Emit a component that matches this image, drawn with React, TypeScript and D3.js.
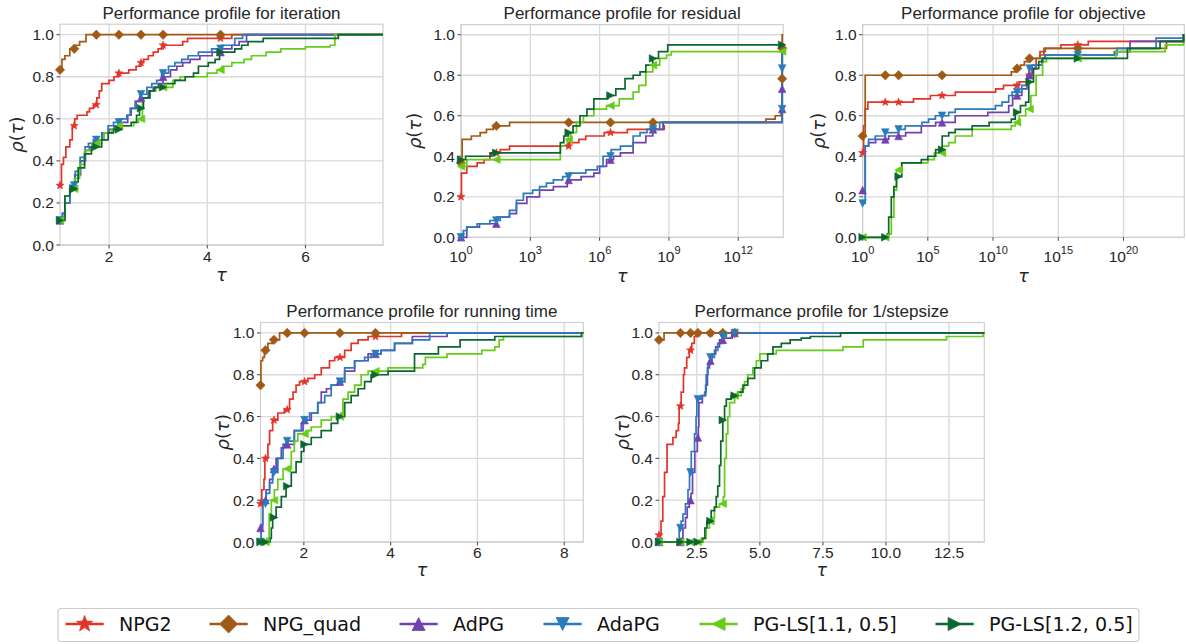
import React from "react";
import * as d3 from "d3";

type Pt = [number, number];

const SERIES = ["NPG2", "NPG_quad", "AdPG", "AdaPG", "PG-LS[1.1, 0.5]", "PG-LS[1.2, 0.5]"];
const COLORS = ["#e3342a", "#a05a16", "#7241b1", "#2a7bba", "#66cc1a", "#0b6630"];
const MARKERS = ["star", "diamond", "triUp", "triDown", "triLeft", "triRight"];
const Y_TICKS = [0, 0.2, 0.4, 0.6, 0.8, 1.0];

// ---------- iteration (tau linear) ----------
const ITER_NPG2: Pt[] = [[1,.283],[1.03,.383],[1.07,.417],[1.12,.467],[1.2,.5],[1.25,.567],[1.3,.6],[1.35,.617],[1.55,.633],[1.6,.65],[1.68,.667],[1.75,.7],[1.8,.733],[1.85,.767],[2.0,.783],[2.1,.8],[2.2,.817],[2.4,.833],[2.55,.85],[2.65,.867],[2.7,.883],[2.8,.9],[2.9,.917],[3.0,.933],[3.1,.95],[3.5,.967],[3.6,.983],[4.5,1]];
const ITER_QUAD: Pt[] = [[1,.833],[1.04,.883],[1.1,.9],[1.2,.933],[1.3,.95],[1.4,.967],[1.53,1]];
const ITER_ADPG: Pt[] = [[1,.117],[1.05,.15],[1.1,.2],[1.2,.283],[1.3,.333],[1.42,.4],[1.52,.45],[1.6,.467],[1.7,.5],[1.87,.533],[2.0,.55],[2.1,.567],[2.25,.583],[2.38,.617],[2.45,.65],[2.55,.683],[2.65,.7],[2.8,.733],[2.9,.75],[3.0,.767],[3.1,.8],[3.25,.833],[3.38,.85],[3.5,.867],[3.65,.883],[3.85,.9],[4.1,.917],[4.3,.933],[4.5,.95],[4.65,.967],[4.8,1]];
const ITER_ADAPG: Pt[] = [[1,.117],[1.05,.15],[1.1,.2],[1.2,.283],[1.31,.35],[1.41,.417],[1.51,.467],[1.58,.483],[1.68,.5],[1.85,.533],[1.98,.567],[2.09,.583],[2.22,.6],[2.36,.617],[2.43,.65],[2.53,.683],[2.63,.717],[2.77,.75],[2.87,.767],[2.97,.783],[3.07,.817],[3.21,.85],[3.34,.867],[3.48,.883],[3.61,.9],[3.82,.917],[4.09,.933],[4.29,.95],[4.56,.983],[4.72,1]];
const ITER_LS11: Pt[] = [[1,.117],[1.1,.233],[1.2,.267],[1.3,.317],[1.4,.383],[1.5,.45],[1.65,.483],[1.75,.5],[1.9,.533],[2.05,.55],[2.2,.567],[2.5,.583],[2.6,.6],[2.68,.7],[2.83,.733],[2.95,.75],[3.3,.783],[3.45,.8],[4.0,.817],[4.2,.833],[4.3,.85],[4.5,.867],[4.75,.883],[4.9,.9],[5.2,.917],[5.5,.933],[6.0,.942],[6.5,.95],[6.6,1]];
const ITER_LS12: Pt[] = [[1,.117],[1.1,.233],[1.2,.267],[1.3,.3],[1.37,.367],[1.5,.433],[1.64,.467],[1.85,.5],[1.98,.533],[2.09,.55],[2.26,.567],[2.45,.583],[2.56,.617],[2.62,.65],[2.7,.7],[2.83,.733],[2.93,.75],[3.14,.767],[3.34,.783],[3.55,.8],[3.72,.817],[3.82,.85],[4.02,.867],[4.16,.883],[4.25,.917],[4.56,.933],[4.7,.95],[4.83,.967],[5.14,.983],[6.67,1]];
const ITER_MARK_TAUS = [1, 1.29, 1.74, 2.2, 2.65, 3.1, 4.27];

// ---------- residual (log10 tau) ----------
const RES_NPG2: Pt[] = [[0,.2],[0.02,.317],[0.25,.35],[0.7,.367],[1.0,.383],[1.25,.417],[1.7,.433],[2.1,.45],[4.7,.467],[5.1,.483],[5.4,.5],[6.2,.517],[7.2,.533],[8.8,.55],[8.75,.567],[13.9,.933]];
const RES_QUAD: Pt[] = [[0,.367],[0.05,.483],[0.45,.5],[0.83,.517],[1.1,.533],[1.4,.55],[2.1,.567],[13.2,.583],[13.6,.6],[13.85,.617],[13.9,1]];
const RES_ADPG: Pt[] = [[0,0],[0.25,.05],[0.8,.067],[1.55,.1],[2.1,.117],[2.4,.167],[2.85,.2],[3.4,.233],[4.0,.25],[4.6,.283],[5.2,.3],[5.75,.317],[6.0,.35],[6.3,.383],[6.6,.4],[6.9,.417],[7.45,.467],[8.0,.5],[8.3,.533],[8.75,.567],[13.9,.95]];
const RES_ADAPG: Pt[] = [[0,0],[0.1,.033],[0.25,.05],[0.7,.067],[1.25,.083],[1.7,.1],[2.1,.133],[2.4,.183],[2.7,.217],[3.1,.233],[3.4,.25],[3.7,.267],[4.0,.283],[4.4,.3],[4.7,.317],[5.4,.333],[5.9,.35],[6.15,.4],[6.5,.433],[6.9,.45],[7.45,.5],[7.75,.517],[8.05,.533],[8.6,.567],[13.9,.95]];
const RES_LS11: Pt[] = [[0,.35],[0.25,.383],[4.3,.45],[4.6,.483],[4.75,.517],[5.0,.567],[5.3,.6],[5.75,.633],[6.3,.65],[6.85,.683],[7.45,.717],[7.7,.75],[8.0,.817],[8.3,.85],[8.6,.883],[8.9,.9],[9.1,.917]];
const RES_LS12: Pt[] = [[0,.383],[0.2,.4],[1.3,.417],[4.3,.467],[4.45,.5],[4.65,.517],[4.85,.55],[5.15,.6],[5.45,.633],[5.75,.683],[6.35,.7],[6.7,.733],[7.1,.783],[7.45,.8],[7.75,.817],[8.0,.85],[8.3,.883],[8.55,.917],[8.95,.95]];
const RES_MARK_LOGTAUS = [0, 1.53, 4.66, 6.47, 8.31];
const RES_END_LOGTAU = 13.9;
const RES_END_MARKS = [[0.933], [0.783, 0.933], [0.733, 0.633], [0.833, 0.633], [0.917], [0.95]];

// ---------- objective (log10 tau) ----------
const OBJ_NPG2: Pt[] = [[0,.417],[0.08,.55],[0.2,.633],[0.4,.667],[3.9,.683],[5.2,.7],[7.1,.717],[10.2,.733],[10.8,.75],[12.0,.767],[12.6,.8],[13.0,.833],[13.3,.883],[13.6,.917],[14.0,.933],[15.2,.95],[17.3,.967],[24.6,1]];
const OBJ_QUAD: Pt[] = [[0,.5],[0.2,.8],[11.4,.817],[11.7,.833],[12.1,.85],[12.4,.867],[12.8,.883],[13.6,.9],[13.9,.933],[23.3,.967],[24.6,1]];
const OBJ_ADPG: Pt[] = [[0,.233],[0.2,.45],[0.46,.467],[1.0,.483],[2.0,.5],[3.3,.517],[4.5,.55],[5.6,.567],[7.1,.6],[9.6,.617],[11.2,.65],[11.5,.7],[12.2,.733],[12.6,.8],[13.0,.85],[13.76,.883],[14.0,.9],[19.3,.917],[20.5,.967],[24.6,1]];
const OBJ_ADAPG: Pt[] = [[0,.167],[0.2,.45],[0.46,.483],[0.97,.5],[1.74,.517],[2.76,.533],[3.27,.55],[4.55,.567],[5.06,.583],[5.58,.6],[6.6,.617],[7.1,.633],[10.18,.65],[10.69,.667],[11.2,.7],[11.46,.717],[12.2,.75],[12.6,.8],[12.74,.833],[13.25,.85],[13.76,.883],[14.0,.9],[19.5,.933],[22.5,.983],[24.6,1]];
const OBJ_LS11: Pt[] = [[0,0],[2.0,.017],[2.2,.1],[2.4,.233],[2.6,.333],[3.0,.367],[5.0,.383],[5.5,.417],[6.1,.45],[6.6,.467],[7.1,.5],[8.4,.533],[11.4,.55],[11.7,.567],[12.0,.6],[12.5,.633],[12.9,.7],[13.3,.8],[13.8,.867],[14.1,.883],[19.4,.917],[23.2,.95],[24.6,1]];
const OBJ_LS12: Pt[] = [[0,0],[1.9,.017],[2.0,.1],[2.2,.2],[2.4,.25],[2.6,.3],[3.0,.367],[4.5,.383],[5.0,.4],[5.6,.433],[6.1,.5],[6.6,.517],[7.1,.533],[8.4,.55],[9.7,.567],[11.4,.583],[11.7,.617],[12.1,.65],[12.5,.667],[12.74,.767],[13.1,.833],[13.5,.867],[13.8,.883],[20.3,.933],[22.8,.967],[24.6,1]];
const OBJ_MARK_LOGTAUS = [0, 1.74, 2.76, 6.09, 11.84, 12.8, 16.5];

// ---------- running time (tau linear) ----------
const TIME_NPG2: Pt[] = [[1,.183],[1.03,.25],[1.08,.3],[1.1,.4],[1.17,.467],[1.21,.533],[1.28,.583],[1.4,.617],[1.55,.633],[1.67,.683],[1.75,.717],[1.82,.75],[1.9,.767],[2.09,.783],[2.25,.8],[2.4,.833],[2.59,.867],[2.71,.883],[2.94,.917],[3.09,.95],[3.25,.967],[3.48,.983],[4.25,1]];
const TIME_QUAD: Pt[] = [[1,.75],[1.01,.867],[1.05,.883],[1.09,.917],[1.17,.95],[1.28,.967],[1.44,1]];
const TIME_ADPG: Pt[] = [[1,.067],[1.05,.2],[1.13,.25],[1.21,.3],[1.28,.35],[1.36,.4],[1.48,.45],[1.55,.467],[1.78,.533],[1.98,.583],[2.17,.617],[2.32,.667],[2.4,.717],[2.52,.733],[2.63,.75],[2.78,.767],[2.94,.817],[3.17,.867],[3.48,.9],[3.78,.917],[4.09,.95],[4.5,.983],[5.3,1]];
const TIME_ADAPG: Pt[] = [[1,0],[1.015,.083],[1.05,.183],[1.13,.233],[1.21,.283],[1.28,.333],[1.4,.4],[1.52,.467],[1.59,.483],[1.78,.533],[1.94,.567],[2.0,.583],[2.13,.617],[2.32,.667],[2.48,.7],[2.63,.75],[2.78,.767],[2.94,.833],[3.17,.867],[3.4,.883],[3.55,.9],[3.78,.917],[4.09,.95],[4.5,.967],[4.9,1]];
const TIME_LS11: Pt[] = [[1,0],[1.15,.017],[1.2,.133],[1.25,.2],[1.32,.25],[1.4,.3],[1.52,.35],[1.71,.433],[1.78,.483],[1.86,.517],[2.05,.533],[2.17,.55],[2.4,.583],[2.63,.6],[2.85,.617],[2.9,.683],[3.02,.717],[3.17,.75],[3.32,.8],[3.48,.817],[3.94,.833],[4.74,.85],[4.8,.883],[5.3,.9],[6.1,.917],[6.4,.933],[6.5,.967],[6.6,.983],[8.4,1]];
const TIME_LS12: Pt[] = [[1,0],[1.22,.017],[1.25,.067],[1.28,.117],[1.36,.167],[1.48,.217],[1.59,.267],[1.71,.333],[1.82,.383],[1.94,.433],[2.0,.467],[2.17,.5],[2.4,.533],[2.63,.567],[2.78,.6],[2.94,.667],[3.09,.7],[3.25,.733],[3.4,.767],[3.55,.8],[3.94,.817],[4.55,.9],[5.1,.933],[5.6,.967],[6.4,.983],[8.4,1]];
const TIME_MARK_TAUS = [1, 1.115, 1.31, 1.615, 2.015, 2.83, 3.65];

// ---------- 1/stepsize (tau linear) ----------
const STEP_NPG2: Pt[] = [[1,.033],[1.08,.1],[1.15,.217],[1.22,.333],[1.32,.467],[1.55,.5],[1.68,.533],[1.77,.567],[1.8,.65],[1.88,.717],[1.97,.8],[2.01,.833],[2.1,.883],[2.2,.917],[2.3,.95],[2.4,.983],[2.47,1]];
const STEP_QUAD: Pt[] = [[1,.967],[1.2,1]];
const STEP_ADPG: Pt[] = [[1,0],[1.88,.017],[1.95,.067],[2.05,.117],[2.12,.167],[2.2,.2],[2.27,.233],[2.33,.333],[2.42,.433],[2.52,.5],[2.56,.55],[2.58,.667],[2.72,.7],[2.85,.75],[2.92,.833],[3.0,.867],[3.1,.9],[3.25,.933],[3.4,.967],[3.55,.975],[3.9,1]];
const STEP_ADAPG: Pt[] = [[1,0],[1.8,.067],[1.88,.1],[1.95,.133],[2.05,.183],[2.15,.25],[2.21,.333],[2.28,.433],[2.41,.517],[2.47,.6],[2.5,.683],[2.67,.7],[2.81,.717],[2.87,.8],[2.94,.85],[3.04,.883],[3.2,.917],[3.33,.95],[3.53,.983],[3.67,1]];
const STEP_LS11: Pt[] = [[1,0],[2.75,.017],[2.87,.067],[3.0,.1],[3.1,.117],[3.2,.167],[3.4,.183],[3.55,.217],[3.6,.4],[3.67,.517],[3.73,.6],[3.8,.667],[4.0,.7],[4.26,.733],[4.39,.767],[4.52,.8],[4.72,.833],[4.86,.867],[5.0,.9],[5.65,.917],[8.3,.933],[9.1,.967],[12.4,.983],[13.85,1]];
const STEP_LS12: Pt[] = [[1,0],[2.7,.017],[2.82,.067],[2.9,.1],[3.07,.15],[3.2,.167],[3.27,.217],[3.33,.267],[3.4,.367],[3.45,.483],[3.53,.583],[3.6,.65],[3.67,.683],[3.86,.7],[4.13,.717],[4.33,.75],[4.52,.783],[4.79,.833],[5.05,.867],[5.31,.9],[5.52,.933],[5.85,.95],[6.2,.967],[6.64,.975],[7.0,.983],[8.2,1]];
const STEP_MARK_TAUS = [1, 1.85, 2.25, 2.54, 3.04, 3.53, 4.0];

const TITLES = [
  "Performance profile for iteration",
  "Performance profile for residual",
  "Performance profile for objective",
  "Performance profile for running time",
  "Performance profile for 1/stepsize",
];

const fromLog = (arr: Pt[]): Pt[] => arr.map(([d, r]) => [Math.pow(10, d), r] as Pt);

interface Panel {
  title: string;
  x0: number; x1: number; y0: number; y1: number;
  log: boolean;
  domain: [number, number];
  ticks: number[];
  fmt: (v: number) => any;
  data: Pt[][];
  markTaus: number[];
  endTau?: number;
  endMarks?: number[][];
  ylabX: number;
  xlabY: number;
  tickBase: number;
}

const fmtInt = (v: number) => String(v);
const fmt1 = (v: number) => v.toFixed(1);

const PANELS: Panel[] = [
  { title: TITLES[0], x0: 60, x1: 383, y0: 24.2, y1: 245, log: false, domain: [1, 7.58], ticks: [2, 4, 6], fmt: fmtInt,
    data: [ITER_NPG2, ITER_QUAD, ITER_ADPG, ITER_ADAPG, ITER_LS11, ITER_LS12], markTaus: ITER_MARK_TAUS, ylabX: 16, xlabY: 280.5, tickBase: 262 },
  { title: TITLES[1], x0: 461, x1: 783.3, y0: 24.6, y1: 237.3, log: true, domain: [1, Math.pow(10, 13.95)], ticks: [0, 3, 6, 9, 12].map(e => Math.pow(10, e)), fmt: (v) => v,
    data: [RES_NPG2, RES_QUAD, RES_ADPG, RES_ADAPG, RES_LS11, RES_LS12].map(fromLog), markTaus: RES_MARK_LOGTAUS.map(e => Math.pow(10, e)),
    endTau: Math.pow(10, RES_END_LOGTAU), endMarks: RES_END_MARKS, ylabX: 413.5, xlabY: 281.5, tickBase: 261.5 },
  { title: TITLES[2], x0: 862.6, x1: 1184.3, y0: 24.6, y1: 237.3, log: true, domain: [1, Math.pow(10, 24.66)], ticks: [0, 5, 10, 15, 20].map(e => Math.pow(10, e)), fmt: (v) => v,
    data: [OBJ_NPG2, OBJ_QUAD, OBJ_ADPG, OBJ_ADAPG, OBJ_LS11, OBJ_LS12].map(fromLog), markTaus: OBJ_MARK_LOGTAUS.map(e => Math.pow(10, e)), ylabX: 817.5, xlabY: 281.5, tickBase: 261.5 },
  { title: TITLES[3], x0: 260.5, x1: 583.3, y0: 322.5, y1: 542, log: false, domain: [1, 8.44], ticks: [2, 4, 6, 8], fmt: fmtInt,
    data: [TIME_NPG2, TIME_QUAD, TIME_ADPG, TIME_ADAPG, TIME_LS11, TIME_LS12], markTaus: TIME_MARK_TAUS, ylabX: 222, xlabY: 576, tickBase: 558 },
  { title: TITLES[4], x0: 659, x1: 984.3, y0: 322.5, y1: 542, log: false, domain: [1, 13.9], ticks: [2.5, 5, 7.5, 10, 12.5], fmt: fmt1,
    data: [STEP_NPG2, STEP_QUAD, STEP_ADPG, STEP_ADAPG, STEP_LS11, STEP_LS12], markTaus: STEP_MARK_TAUS, ylabX: 622, xlabY: 576, tickBase: 558 },
];

function markerPath(type: string, r: number): string {
  switch (type) {
    case "diamond": return `M0,${-r}L${r},0L0,${r}L${-r},0Z`;
    case "triUp": return `M0,${-r}L${r},${r}L${-r},${r}Z`;
    case "triDown": return `M0,${r}L${r},${-r}L${-r},${-r}Z`;
    case "triLeft": return `M${-r},0L${r},${-r}L${r},${r}Z`;
    case "triRight": return `M${r},0L${-r},${-r}L${-r},${r}Z`;
    default: {
      const pts: string[] = [];
      for (let i = 0; i < 10; i++) {
        const rr = i % 2 === 0 ? r : r * 0.42;
        const a = -Math.PI / 2 + (i * Math.PI) / 5;
        pts.push(`${(rr * Math.cos(a)).toFixed(2)},${(rr * Math.sin(a)).toFixed(2)}`);
      }
      return "M" + pts.join("L") + "Z";
    }
  }
}
const PLOT_R: Record<string, number> = { star: 4.2, diamond: 4.7, triUp: 3.8, triDown: 3.8, triLeft: 3.8, triRight: 3.8 };
const LEG_R: Record<string, number> = { star: 8.5, diamond: 9, triUp: 6.5, triDown: 6.5, triLeft: 6.5, triRight: 6.5 };

function valueAt(data: Pt[], t: number): number {
  let v = data[0][1];
  for (const [x, y] of data) { if (x <= t * (1 + 1e-9)) v = y; else break; }
  return v;
}

const TXT = "#262626";
const SANS = "Liberation Sans, Arial, sans-serif";
const DJV = "DejaVu Sans, sans-serif";

function PanelView({ p }: { p: Panel }) {
  const xs = p.log
    ? d3.scaleLog().domain(p.domain).range([p.x0, p.x1])
    : d3.scaleLinear().domain(p.domain).range([p.x0, p.x1]);
  const ys = d3.scaleLinear().domain([0, 1.05]).range([p.y1, p.y0]);
  const line = d3.line<Pt>().x(d => xs(d[0])).y(d => ys(d[1])).curve(d3.curveStepAfter);
  const cx = (p.x0 + p.x1) / 2;
  const cy = (p.y0 + p.y1) / 2;
  return (
    <g>
      <rect x={p.x0} y={p.y0} width={p.x1 - p.x0} height={p.y1 - p.y0} fill="#fff" />
      {Y_TICKS.map(t => (
        <line key={"gy" + t} x1={p.x0} x2={p.x1} y1={ys(t)} y2={ys(t)} stroke="#d9d9d9" strokeWidth={1.3} />
      ))}
      {p.ticks.map(t => (
        <line key={"gx" + t} x1={xs(t)} x2={xs(t)} y1={p.y0} y2={p.y1} stroke="#d9d9d9" strokeWidth={1.3} />
      ))}
      <rect x={p.x0} y={p.y0} width={p.x1 - p.x0} height={p.y1 - p.y0} fill="none" stroke="#cfcfcf" strokeWidth={1.2} />
      {Y_TICKS.map(t => (
        <g key={"ty" + t}>
          <line x1={p.x0 - 3.5} x2={p.x0} y1={ys(t)} y2={ys(t)} stroke="#444" strokeWidth={1} />
          <text x={p.x0 - 6} y={ys(t) + 5.5} textAnchor="end" fontFamily={SANS} fontSize={15.5} fill={TXT}>{t.toFixed(1)}</text>
        </g>
      ))}
      {p.ticks.map(t => (
        <g key={"tx" + t}>
          <line x1={xs(t)} x2={xs(t)} y1={p.y1} y2={p.y1 + 3.5} stroke="#444" strokeWidth={1} />
          {p.log ? (
            <text x={xs(t)} y={p.tickBase} textAnchor="middle" fontFamily={SANS} fontSize={15.5} fill={TXT}>
              10<tspan dy={-8} fontSize={11}>{String(Math.round(Math.log10(t)))}</tspan>
            </text>
          ) : (
            <text x={xs(t)} y={p.tickBase} textAnchor="middle" fontFamily={SANS} fontSize={15.5} fill={TXT}>{p.fmt(t)}</text>
          )}
        </g>
      ))}
      <text x={cx} y={p.y0 - 5.5} textAnchor="middle" fontFamily={SANS} fontSize={17} fill={TXT}>{p.title}</text>
      <text x={cx} y={p.xlabY} textAnchor="middle" fontFamily={DJV} fontSize={17.5} fontStyle="italic" fill={TXT}>τ</text>
      <text transform={`translate(${p.ylabX},${cy}) rotate(-90)`} textAnchor="middle" dominantBaseline="central" fontFamily={DJV} fontSize={18} fill={TXT}>
        <tspan fontStyle="italic">ρ</tspan>(<tspan fontStyle="italic">τ</tspan>)
      </text>
      {p.data.map((arr, i) => {
        const pts: Pt[] = [...arr, [p.domain[1], arr[arr.length - 1][1]]];
        return <path key={"l" + i} d={line(pts) || ""} fill="none" stroke={COLORS[i]} strokeWidth={1.7} strokeLinejoin="miter" />;
      })}
      {p.data.map((arr, i) => {
        const marks: Pt[] = p.markTaus.map(t => [t, valueAt(arr, t)] as Pt);
        if (p.endTau && p.endMarks) p.endMarks[i].forEach(r => marks.push([p.endTau as number, r]));
        return (
          <g key={"m" + i}>
            {marks.map((m, k) => (
              <path key={k} d={markerPath(MARKERS[i], PLOT_R[MARKERS[i]])} transform={`translate(${xs(m[0])},${ys(m[1])})`} fill={COLORS[i]} stroke={COLORS[i]} strokeWidth={0.6} />
            ))}
          </g>
        );
      })}
    </g>
  );
}

const LEG_TEXT_X = [119, 263, 453, 597, 753, 989];

function Legend() {
  const yMid = 624;
  return (
    <g>
      <rect x={58} y={608.5} width={1081} height={33} rx={3.5} fill="#fff" stroke="#cccccc" strokeWidth={1.2} />
      {SERIES.map((s, i) => {
        const tx = LEG_TEXT_X[i];
        const hx0 = tx - 53.5, hx1 = tx - 15.3;
        return (
          <g key={s}>
            <line x1={hx0} x2={hx1} y1={yMid} y2={yMid} stroke={COLORS[i]} strokeWidth={2.7} />
            <path d={markerPath(MARKERS[i], LEG_R[MARKERS[i]])} transform={`translate(${(hx0 + hx1) / 2},${yMid})`} fill={COLORS[i]} stroke={COLORS[i]} strokeWidth={0.8} />
            <text x={tx} y={631} fontFamily={DJV} fontSize={19.1} fill="#111">{s}</text>
          </g>
        );
      })}
    </g>
  );
}

export default function App() {
  return (
    <svg width={1186} height={644} viewBox="0 0 1186 644" style={{ position: "absolute", left: 0, top: 0, background: "#fff" }}>
      <rect x={0} y={0} width={1186} height={644} fill="#fff" />
      {PANELS.map((p, i) => <PanelView key={i} p={p} />)}
      <Legend />
    </svg>
  );
}
